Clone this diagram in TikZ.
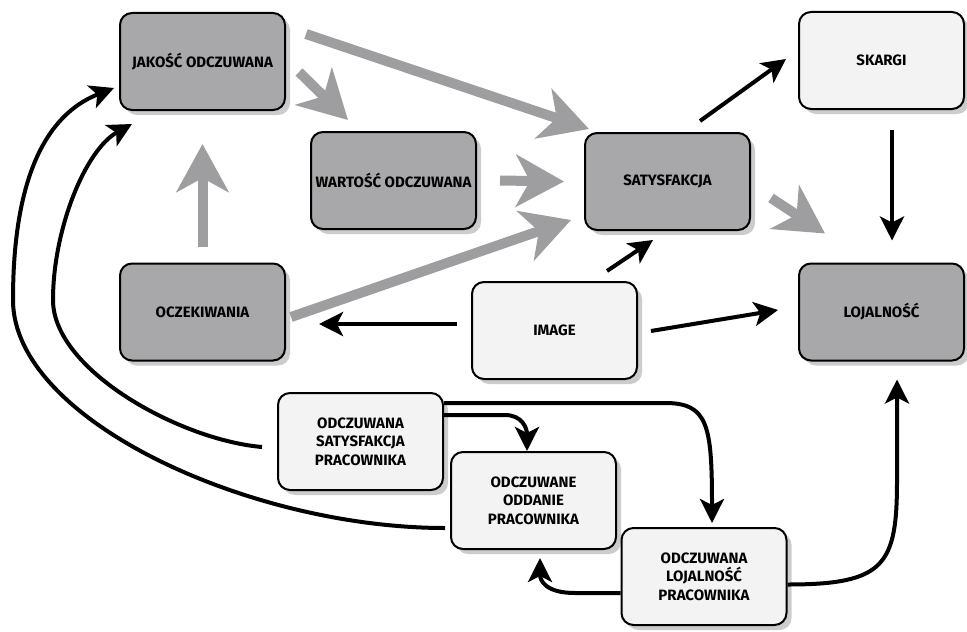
\documentclass[tikz,border=0pt]{standalone}
\usepackage{fontspec}
\setmainfont{Fira Sans}
\usetikzlibrary{arrows.meta, shadows}

\definecolor{boxdark}{RGB}{168,168,170}
\definecolor{boxlight}{RGB}{243,243,243}
\definecolor{arrowgray}{RGB}{158,158,160}

\begin{document}
\begin{tikzpicture}[x=0.5pt, y=-0.5pt,
		box/.style={draw=black, line width=1pt, rounded corners=6pt,
			minimum width=82.5pt, minimum height=48.5pt, inner sep=0pt, align=center,
			font=\bfseries\fontsize{7.5}{9.25}\selectfont,
			drop shadow={shadow xshift=2.5pt, shadow yshift=-2.5pt, opacity=0.4}},
		dark/.style={box, fill=boxdark},
		light/.style={box, fill=boxlight},
		grayarrow/.style={draw=arrowgray, line width=5pt, -{Stealth[length=24pt, width=26pt, inset=7pt]}},
		blackarrow/.style={draw=black, line width=2pt, -{Stealth[length=12pt, width=12pt, inset=3pt]}}]
		\fill[white] (0,0) rectangle (967,631);
		\useasboundingbox (0,0) rectangle (967,631);

		\node[dark] (jak) at (202.5, 61.5) {JAKOŚĆ ODCZUWANA};
		\node[dark] (war) at (393.5, 180.5) {WARTOŚĆ ODCZUWANA};
		\node[dark] (sat) at (667.5, 181.5) {SATYSFAKCJA};
		\node[light] (ska) at (881.5, 60.5) {SKARGI};
		\node[dark] (ocz) at (202.5, 312) {OCZEKIWANIA};
		\node[light] (img) at (554.5, 330.5) {IMAGE};
		\node[dark] (loj) at (881.5, 312) {LOJALNOŚĆ};
		\node[light] (osp) at (360.5, 441.5) {ODCZUWANA\\SATYSFAKCJA\\PRACOWNIKA};
		\node[light] (oop) at (533.5, 500.5) {ODCZUWANE\\ODDANIE\\PRACOWNIKA};
		\node[light] (olp) at (704, 576.5) {ODCZUWANA\\LOJALNOŚĆ\\PRACOWNIKA};

		% szare strzalki
		\draw[grayarrow] ([shift={(20,22)}]jak.north east) -- ([shift={(5,-3)}]sat.north west);
		\draw[grayarrow] ([shift={(13,10.5)}]jak.east) -- ([shift={(-45.5,-11)}]war.north);
		\draw[grayarrow] ([shift={(0,-16)}]ocz.north) -- ([shift={(0,33)}]jak.south);
		\draw[grayarrow] ([shift={(23,0)}]war.east) -- ([shift={(-20,0)}]sat.west);
		\draw[grayarrow] ([shift={(5,5)}]ocz.east) -- ([shift={(-13,38.5)}]sat.west);
		\draw[grayarrow] ([shift={(20,16.5)}]sat.east) -- ([shift={(27,-29)}]loj.north west);

		% czarne strzalki
		\draw[blackarrow] ([shift={(32.5,-11)}]sat.north) -- ([shift={(-12,-1.5)}]ska.west);
		\draw[blackarrow] ([shift={(10.5,20)}]ska.south) -- ([shift={(10.5,-22)}]loj.north);
		\draw[blackarrow] ([shift={(52.5,-10)}]img.north) -- ([shift={(-14.5,9)}]sat.south);
		\draw[blackarrow] ([shift={(-14,-6.5)}]img.west) -- ([shift={(33,12)}]ocz.east);
		\draw[blackarrow] ([shift={(13,0.5)}]img.east) -- ([shift={(-20,-2)}]loj.west);

		\draw[blackarrow] ([shift={(-15,5.5)}]osp.west) .. controls (180,440) and (53,370) .. (53,300)
			.. controls (53,230) and (85,150) .. ([shift={(13,13)}]jak.south west);
		\draw[blackarrow] ([shift={(-5,27.5)}]oop.west) .. controls (250,528) and (13,420) .. (13,300)
			.. controls (13,180) and (45,115) .. ([shift={(-5,26.5)}]jak.west);
		\draw[blackarrow] ([shift={(0,-26.5)}]osp.east) -- (505,415) .. controls (522,415) and (527,428) .. ([shift={(-6.5,0)}]oop.north);
		\draw[blackarrow] ([shift={(0,-38.5)}]osp.east) -- (665,403) .. controls (708,403) and (712,425) .. ([shift={(8,-4)}]olp.north);
		\draw[blackarrow] ([shift={(0,16.5)}]olp.west) -- (575,593) .. controls (545,593) and (540,580) .. ([shift={(6.5,8)}]oop.south);
		\draw[blackarrow] ([shift={(0,8)}]olp.east) .. controls (885,584.5) and (897,565) .. (897,480) -- ([shift={(15.5,18)}]loj.south);
	\end{tikzpicture}
\end{document}
